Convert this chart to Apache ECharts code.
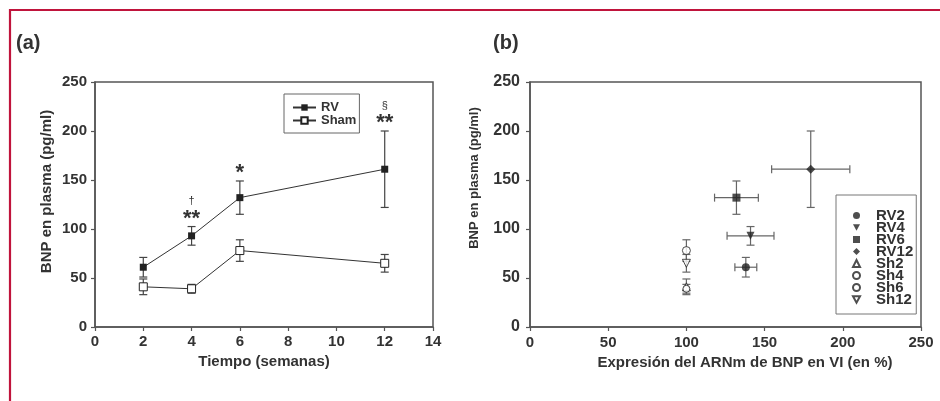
<!DOCTYPE html>
<html>
<head>
<meta charset="utf-8">
<script src="https://cdn.jsdelivr.net/npm/echarts@6/dist/echarts.min.js"></script>
<style>
html,body{margin:0;padding:0;background:#fff;}
#chart{width:940px;height:401px;}
</style>
</head>
<body>
<div id="chart"></div>
<script>
// ---- Panel (a): BNP vs time ----
const weeks = [2, 4, 6, 12];
const rvMean = [61, 93, 132, 161];
const rvSd = [10, 9.5, 17, 39];
const shamMean = [41, 39, 78, 65];
const shamSd = [8, 4.5, 11, 9];
const sigMain = ['', '**', '*', '**'];
const sigExtra = ['', '\u2020', '', '\u00a7'];
const xTicksA = [0, 2, 4, 6, 8, 10, 12, 14];
const yTicks = [0, 50, 100, 150, 200, 250];

// ---- Panel (b): BNP vs mRNA expression ----
const groups = ['RV2', 'RV4', 'RV6', 'RV12', 'Sh2', 'Sh4', 'Sh6', 'Sh12'];
const mrnaMean = [138, 141, 132, 179.5, 100, 100, 100, 100];
const mrnaSd = [7, 15, 14, 25, 0, 0, 0, 0];
const bnpMean = [61, 93, 132, 161, 41, 39, 78, 65];
const bnpSd = [10, 9.5, 17, 39, 8, 4.5, 11, 9];
const xTicksB = [0, 50, 100, 150, 200, 250];

// styles (not data)
const DOWN = 'path://M0,0L10,0L5,9Z';
const groupSymbol = ['circle', DOWN, 'rect', 'diamond', 'triangle', 'circle', 'circle', DOWN];
const groupSize = [8, 8, 8, 9, 8, 7, 8, 8];
const groupFilled = [true, true, true, true, false, false, false, false];

const FONT = '"Liberation Sans", Arial, sans-serif';
const TXT = '#333';
const AX = '#555';

const chart = echarts.init(document.getElementById('chart'), null, {renderer: 'canvas'});

function vErr(color, cap) {
  return function (params, api) {
    const x = api.value(0), y = api.value(1), e = api.value(2);
    const t = api.coord([x, y + e]), b = api.coord([x, y - e]);
    const st = {stroke: color, lineWidth: 1.2};
    return {type: 'group', children: [
      {type: 'line', shape: {x1: t[0], y1: t[1], x2: b[0], y2: b[1]}, style: st},
      {type: 'line', shape: {x1: t[0] - cap, y1: t[1], x2: t[0] + cap, y2: t[1]}, style: st},
      {type: 'line', shape: {x1: b[0] - cap, y1: b[1], x2: b[0] + cap, y2: b[1]}, style: st}
    ]};
  };
}

function xyErr(params, api) {
  const x = api.value(0), y = api.value(1), ex = api.value(2), ey = api.value(3);
  const st = {stroke: '#666', lineWidth: 1.2};
  const cap = 4;
  const ch = [];
  const t = api.coord([x, y + ey]), b = api.coord([x, y - ey]);
  ch.push({type: 'line', shape: {x1: t[0], y1: t[1], x2: b[0], y2: b[1]}, style: st});
  ch.push({type: 'line', shape: {x1: t[0] - cap, y1: t[1], x2: t[0] + cap, y2: t[1]}, style: st});
  ch.push({type: 'line', shape: {x1: b[0] - cap, y1: b[1], x2: b[0] + cap, y2: b[1]}, style: st});
  if (ex > 0) {
    const l = api.coord([x - ex, y]), r = api.coord([x + ex, y]);
    ch.push({type: 'line', shape: {x1: l[0], y1: l[1], x2: r[0], y2: r[1]}, style: st});
    ch.push({type: 'line', shape: {x1: l[0], y1: l[1] - cap, x2: l[0], y2: l[1] + cap}, style: st});
    ch.push({type: 'line', shape: {x1: r[0], y1: r[1] - cap, x2: r[0], y2: r[1] + cap}, style: st});
  }
  return {type: 'group', children: ch};
}

function sigRender(params, api) {
  const i = params.dataIndex;
  const x = api.value(0), top = api.value(1);
  const p = api.coord([x, top]);
  const ch = [];
  if (sigMain[i]) {
    ch.push({type: 'text', x: p[0], y: p[1] + 3, style: {text: sigMain[i], fill: TXT,
      font: 'bold 22px ' + FONT, textAlign: 'center', textVerticalAlign: 'bottom'}});
  }
  if (sigExtra[i]) {
    ch.push({type: 'text', x: p[0], y: p[1] - 20, style: {text: sigExtra[i], fill: TXT,
      font: '11px ' + FONT, textAlign: 'center', textVerticalAlign: 'bottom'}});
  }
  return {type: 'group', children: ch};
}

const axisCommon = {
  axisLine: {show: true, lineStyle: {color: AX, width: 1.5}},
  axisTick: {show: true, length: 4, lineStyle: {color: AX, width: 1.2}},
  splitLine: {show: false},
  nameLocation: 'middle'
};

const bSeries = groups.map((g, i) => ({
  name: g,
  type: 'scatter',
  xAxisIndex: 1, yAxisIndex: 1,
  symbol: groupSymbol[i],
  symbolSize: groupSize[i],
  z: 5,
  itemStyle: groupFilled[i] ? {color: '#222', borderColor: '#222', borderWidth: 0}
                            : {color: '#fff', borderColor: '#222', borderWidth: 1},
  data: [[mrnaMean[i], bnpMean[i]]]
}));

const option = {
  animation: false,
  backgroundColor: '#fff',
  textStyle: {fontFamily: FONT},
  graphic: [
    {type: 'polyline', shape: {points: [[10, 401], [10, 10], [940, 10]]},
     style: {stroke: '#c0143c', lineWidth: 2.2, fill: null}},
    {type: 'text', left: 16, top: 33, style: {text: '(a)', fill: TXT, font: 'bold 20px ' + FONT}},
    {type: 'text', left: 493, top: 33, style: {text: '(b)', fill: TXT, font: 'bold 20px ' + FONT}}
  ],
  grid: [
    {left: 95, top: 82, width: 338, height: 245, show: true, borderColor: AX, borderWidth: 1.5, backgroundColor: 'transparent'},
    {left: 530, top: 82, width: 391, height: 245, show: true, borderColor: AX, borderWidth: 1.5, backgroundColor: 'transparent'}
  ],
  legend: [
    {
      data: ['RV', 'Sham'],
      orient: 'vertical', left: 284, top: 94,
      itemWidth: 23, itemHeight: 8, itemGap: 0,
      padding: [7, 3, 6, 8],
      borderColor: '#666', borderWidth: 1,
      textStyle: {fontSize: 13, fontWeight: 'bold', color: TXT, fontFamily: FONT, lineHeight: 13}
    },
    {
      data: groups,
      orient: 'vertical', left: 836, top: 195,
      itemWidth: 7, itemHeight: 7, itemGap: -3,
      padding: [13, 3, 7, 16],
      borderColor: '#777', borderWidth: 1,
      textStyle: {fontSize: 15, fontWeight: 'bold', color: TXT, fontFamily: FONT, lineHeight: 12, padding: [0, 0, 0, 11]}
    }
  ],
  xAxis: [
    Object.assign({}, axisCommon, {
      type: 'value', gridIndex: 0, min: xTicksA[0], max: xTicksA[xTicksA.length - 1], interval: 2,
      name: 'Tiempo (semanas)', nameGap: 26,
      nameTextStyle: {fontSize: 15, fontWeight: 'bold', color: TXT, fontFamily: FONT},
      axisLabel: {fontSize: 15, fontWeight: 'bold', color: TXT, margin: 7, fontFamily: FONT}
    }),
    Object.assign({}, axisCommon, {
      type: 'value', gridIndex: 1, min: xTicksB[0], max: xTicksB[xTicksB.length - 1], interval: 50,
      name: 'Expresi\u00f3n del ARNm de BNP en VI (en %)', nameGap: 28,
      nameTextStyle: {fontSize: 15, fontWeight: 'bold', color: TXT, fontFamily: FONT, padding: [0, 0, 0, 39]},
      axisLabel: {fontSize: 15, fontWeight: 'bold', color: TXT, margin: 8, fontFamily: FONT}
    })
  ],
  yAxis: [
    Object.assign({}, axisCommon, {
      type: 'value', gridIndex: 0, min: yTicks[0], max: yTicks[yTicks.length - 1], interval: 50,
      name: 'BNP en plasma (pg/ml)', nameGap: 41,
      nameTextStyle: {fontSize: 15, fontWeight: 'bold', color: TXT, fontFamily: FONT, padding: [0, 0, 0, 26]},
      axisLabel: {fontSize: 15, fontWeight: 'bold', color: TXT, margin: 8, fontFamily: FONT}
    }),
    Object.assign({}, axisCommon, {
      type: 'value', gridIndex: 1, min: yTicks[0], max: yTicks[yTicks.length - 1], interval: 50,
      name: 'BNP en plasma (pg/ml)', nameGap: 49,
      nameTextStyle: {fontSize: 13, fontWeight: 'bold', color: TXT, fontFamily: FONT, padding: [0, 0, 0, 53]},
      axisLabel: {fontSize: 16, fontWeight: 'bold', color: TXT, margin: 10, fontFamily: FONT}
    })
  ],
  series: [
    {
      type: 'custom', name: 'RV err', xAxisIndex: 0, yAxisIndex: 0, z: 2,
      renderItem: vErr('#444', 4), encode: {x: 0, y: 1}, silent: true,
      data: weeks.map((w, i) => [w, rvMean[i], rvSd[i]])
    },
    {
      type: 'custom', name: 'Sham err', xAxisIndex: 0, yAxisIndex: 0, z: 2,
      renderItem: vErr('#444', 4), encode: {x: 0, y: 1}, silent: true,
      data: weeks.map((w, i) => [w, shamMean[i], shamSd[i]])
    },
    {
      name: 'RV', type: 'line', xAxisIndex: 0, yAxisIndex: 0, z: 5,
      symbol: 'rect', symbolSize: 7,
      itemStyle: {color: '#222', borderColor: '#222', borderWidth: 0},
      lineStyle: {color: '#333', width: 1},
      data: weeks.map((w, i) => [w, rvMean[i]])
    },
    {
      name: 'Sham', type: 'line', xAxisIndex: 0, yAxisIndex: 0, z: 5,
      symbol: 'rect', symbolSize: 8,
      itemStyle: {color: '#fff', borderColor: '#222', borderWidth: 1},
      lineStyle: {color: '#333', width: 1},
      data: weeks.map((w, i) => [w, shamMean[i]])
    },
    {
      type: 'custom', name: 'sig', xAxisIndex: 0, yAxisIndex: 0, z: 6,
      renderItem: sigRender, encode: {x: 0, y: 1}, silent: true,
      data: weeks.map((w, i) => [w, rvMean[i] + rvSd[i]])
    },
    {
      type: 'custom', name: 'b err', xAxisIndex: 1, yAxisIndex: 1, z: 2,
      renderItem: xyErr, encode: {x: 0, y: 1}, silent: true,
      data: groups.map((g, i) => [mrnaMean[i], bnpMean[i], mrnaSd[i], bnpSd[i]])
    }
  ].concat(bSeries)
};

chart.setOption(option);
</script>
</body>
</html>
